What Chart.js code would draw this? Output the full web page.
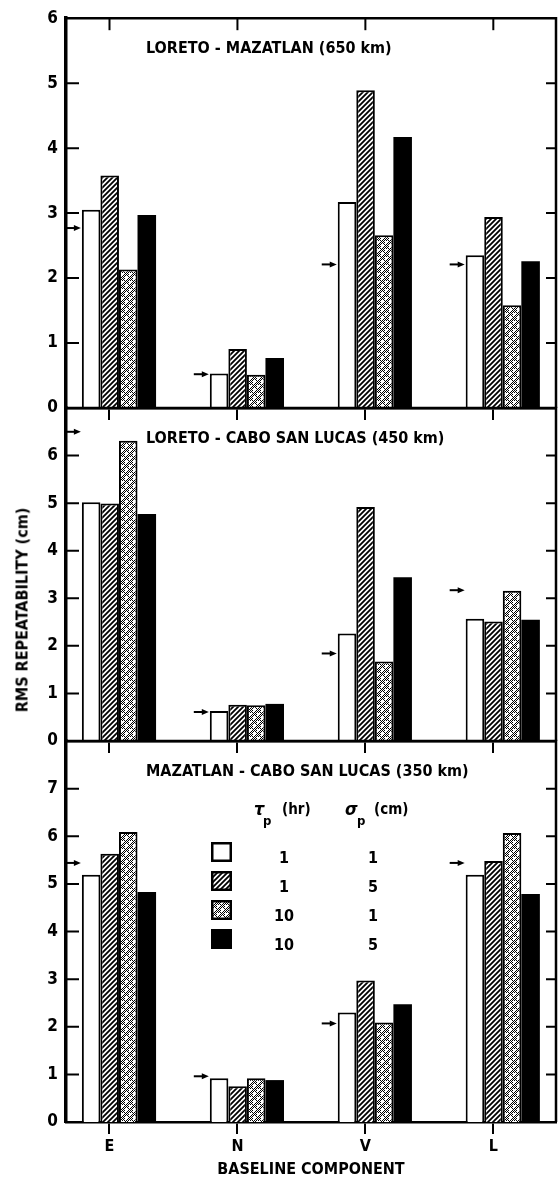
<!DOCTYPE html>
<html>
<head>
<meta charset="utf-8">
<script src="https://cdn.jsdelivr.net/npm/chart.js@4.4.1/dist/chart.umd.min.js"></script>
<style>
  body { margin: 0; background: #fff; width: 558px; height: 1181px; overflow: hidden; position: relative; }
  canvas { position: absolute; left: 0; top: 0; }
  #ytitle {
    position: absolute; left: 22px; top: 610px; white-space: nowrap;
    font: bold 16px "Liberation Sans Narrow", "DejaVu Sans Condensed", sans-serif;
    transform: translate(-50%, -50%) rotate(-90deg);
  }
</style>
</head>
<body>
<canvas id="p1" width="558" height="1181"></canvas>
<canvas id="p2" width="558" height="1181"></canvas>
<canvas id="p3" width="558" height="1181"></canvas>
<div id="ytitle">RMS REPEATABILITY (cm)</div>
<script>
// baseline components and series (tau_p hr / sigma_p cm)
const categories = ['E', 'N', 'V', 'L'];
const tauHours = ['1', '1', '10', '10'];
const sigmaCm = ['1', '5', '1', '5'];

// LORETO - MAZATLAN (650 km)
const lmWhite   = [3.05, 0.53, 3.17, 2.35];
const lmHatched = [3.58, 0.91, 4.89, 2.94];
const lmStipple = [2.13, 0.51, 2.66, 1.58];
const lmBlack   = [2.97, 0.77, 4.17, 2.26];
const lmArrow   = [2.77, 0.52, 2.21, 2.21];

// LORETO - CABO SAN LUCAS (450 km)
const lcWhite   = [5.02, 0.63, 2.26, 2.57];
const lcHatched = [4.99, 0.76, 4.92, 2.51];
const lcStipple = [6.31, 0.75, 1.67, 3.16];
const lcBlack   = [4.77, 0.78, 3.44, 2.55];
const lcArrow   = [6.50, 0.61, 1.84, 3.17];

// MAZATLAN - CABO SAN LUCAS (350 km)
const mcWhite   = [5.19, 0.92, 2.30, 5.19];
const mcHatched = [5.63, 0.75, 2.97, 5.48];
const mcStipple = [6.09, 0.92, 2.09, 6.07];
const mcBlack   = [4.83, 0.88, 2.47, 4.79];
const mcArrow   = [5.44, 0.96, 2.07, 5.44];

const FONT = '"Liberation Sans Narrow", "DejaVu Sans Condensed", sans-serif';
const W = 558, H = 1181;
const FRAME_LEFT = 66, FRAME_RIGHT = 556;
const X_MIN = -0.34, X_MAX = 3.49, BAR_SHIFT = 0.074;

// fill patterns
function hatchPattern() {
    const c = document.createElement('canvas');
    c.width = c.height = 5;
    const g = c.getContext('2d');
    g.fillStyle = '#fff'; g.fillRect(0, 0, 5, 5);
    g.strokeStyle = '#000'; g.lineWidth = 1.8;
    g.beginPath();
    g.moveTo(-1, 6); g.lineTo(6, -1);
    g.moveTo(-1, 1); g.lineTo(1, -1);
    g.moveTo(4, 6); g.lineTo(6, 4);
    g.stroke();
    return g.createPattern(c, 'repeat');
}
function stipplePattern() {
    // checker dots with a few white gaps, roughly a mid grey screen
    const c = document.createElement('canvas');
    c.width = c.height = 8;
    const g = c.getContext('2d');
    g.fillStyle = '#fff'; g.fillRect(0, 0, 8, 8);
    g.fillStyle = '#000';
    const gaps = ['1,1', '2,2', '1,3', '3,1', '5,5', '6,6', '5,7', '7,5', '6,4'];
    for (let yy = 0; yy < 8; yy++) {
        for (let xx = 0; xx < 8; xx++) {
            if ((xx + yy) % 2 === 0 && !gaps.includes(xx + ',' + yy)) g.fillRect(xx, yy, 1, 1);
        }
    }
    return g.createPattern(c, 'repeat');
}
const hatch = hatchPattern();
const stipple = stipplePattern();
const fills = ['#fff', hatch, stipple, '#000'];
const borderWidths = [2, 2, 2, 0];

const framePlugin = {
    id: 'frame',
    afterDraw(chart, args, opts) {
        const { ctx, chartArea: a, scales: { x, y } } = chart;
        ctx.save();
        ctx.strokeStyle = '#000';
        ctx.fillStyle = '#000';
        // top and right frame
        ctx.lineWidth = 2.5;
        ctx.beginPath();
        ctx.moveTo(a.left - 1, a.top);
        ctx.lineTo(a.right, a.top);
        ctx.lineTo(a.right, a.bottom);
        ctx.stroke();
        // inward y ticks on both sides
        ctx.lineWidth = 2;
        y.ticks.forEach(t => {
            if (t.value <= 0 || t.value >= y.max) return;
            const py = y.getPixelForValue(t.value);
            ctx.beginPath();
            ctx.moveTo(a.left, py); ctx.lineTo(a.left + 13, py);
            ctx.moveTo(a.right - 10, py); ctx.lineTo(a.right, py);
            ctx.stroke();
        });
        // inward x ticks along the top of the first panel
        if (opts.topTicks) {
            x.ticks.forEach(t => {
                const px = x.getPixelForValue(t.value);
                ctx.beginPath();
                ctx.moveTo(px, a.top); ctx.lineTo(px, a.top + 12);
                ctx.stroke();
            });
        }
        // reference arrows, left of the first bar of each group
        const white = chart.getDatasetMeta(0).data;
        opts.arrows.forEach((v, i) => {
            const bar = white[i];
            const tip = bar.x - bar.width / 2 - 1;
            const py = y.getPixelForValue(v);
            ctx.lineWidth = 2;
            ctx.beginPath();
            ctx.moveTo(tip - 15, py); ctx.lineTo(tip - 5, py);
            ctx.stroke();
            ctx.beginPath();
            ctx.moveTo(tip, py); ctx.lineTo(tip - 7, py - 3); ctx.lineTo(tip - 7, py + 3);
            ctx.closePath(); ctx.fill();
        });
        // panel title
        ctx.font = 'bold 16px ' + FONT;
        ctx.textAlign = 'left';
        ctx.textBaseline = 'alphabetic';
        ctx.fillText(opts.title, 146, a.top + 35);

        if (opts.legend) drawLegend(ctx);
        ctx.restore();
    }
};

function drawLegend(ctx) {
    const boxX = 211, boxW = 21, boxH = 20, rowTop = 842, rowStep = 29;
    ctx.textAlign = 'left';
    ctx.font = 'italic bold 18px ' + FONT;
    ctx.fillText('τ', 254, 815);
    ctx.fillText('σ', 345, 815);
    ctx.font = 'bold 13px ' + FONT;
    ctx.fillText('p', 263, 825);
    ctx.fillText('p', 357, 825);
    ctx.font = 'bold 15px ' + FONT;
    ctx.fillText('(hr)', 282, 814);
    ctx.fillText('(cm)', 374, 814);
    ctx.font = 'bold 16px ' + FONT;
    ctx.textAlign = 'center';
    for (let k = 0; k < 4; k++) {
        const top = rowTop + k * rowStep;
        ctx.fillStyle = fills[k];
        ctx.fillRect(boxX, top, boxW, boxH);
        if (k < 3) {
            ctx.lineWidth = 2.5;
            ctx.strokeStyle = '#000';
            ctx.strokeRect(boxX + 1.25, top + 1.25, boxW - 2.5, boxH - 2.5);
        }
        ctx.fillStyle = '#000';
        ctx.fillText(tauHours[k], 284, top + 21);
        ctx.fillText(sigmaCm[k], 373, top + 21);
    }
}

function makePanel(id, series, arrows, yMax, top, bottom, title, opts) {
    const last = !!opts.last;
    const xH = last ? H - bottom : 14;
    return new Chart(document.getElementById(id).getContext('2d'), {
        type: 'bar',
        data: {
            datasets: series.map((vals, k) => ({
                label: 'tau ' + tauHours[k] + ' hr, sigma ' + sigmaCm[k] + ' cm',
                data: vals.map((v, i) => ({ x: i + BAR_SHIFT, y: v })),
                backgroundColor: fills[k],
                borderColor: '#000',
                borderWidth: borderWidths[k],
                categoryPercentage: 0.58,
                barPercentage: 1.0
            }))
        },
        options: {
            responsive: false,
            animation: false,
            layout: { padding: { top: top, left: 0, right: W - FRAME_RIGHT, bottom: H - bottom - xH } },
            plugins: {
                legend: { display: false },
                tooltip: { enabled: false },
                frame: { arrows: arrows, title: title, topTicks: !!opts.first, legend: !!opts.legend }
            },
            scales: {
                x: {
                    type: 'linear', min: X_MIN, max: X_MAX, offset: false,
                    afterBuildTicks: s => { s.ticks = categories.map((c, i) => ({ value: i })); },
                    afterFit: s => { s.height = xH; },
                    grid: { offset: false, drawOnChartArea: false, drawTicks: true, tickLength: 12, color: '#000', lineWidth: 2 },
                    border: { display: true, color: '#000', width: 2.5 },
                    ticks: {
                        display: last, autoSkip: false, maxRotation: 0, padding: 3, color: '#000',
                        font: { family: FONT, size: 16, weight: 'bold' },
                        callback: v => categories[Math.round(v)]
                    },
                    title: {
                        display: last, text: 'BASELINE COMPONENT', color: '#000',
                        font: { family: FONT, size: 16, weight: 'bold' }, padding: { top: 0, bottom: 2 }
                    }
                },
                y: {
                    min: 0, max: yMax,
                    afterFit: s => { s.width = FRAME_LEFT; },
                    grid: { display: false, drawTicks: false },
                    border: { display: true, color: '#000', width: 3.5 },
                    ticks: {
                        stepSize: 1, padding: 8, color: '#000',
                        font: { family: FONT, size: 17, weight: 'bold' },
                        callback: v => (opts.hideTop && v === yMax ? '' : v)
                    }
                }
            }
        },
        plugins: [framePlugin]
    });
}

makePanel('p1', [lmWhite, lmHatched, lmStipple, lmBlack], lmArrow, 6, 14, 408,
    'LORETO - MAZATLAN (650 km)', { first: true });
makePanel('p2', [lcWhite, lcHatched, lcStipple, lcBlack], lcArrow, 7, 408, 741,
    'LORETO - CABO SAN LUCAS (450 km)', { hideTop: true });
makePanel('p3', [mcWhite, mcHatched, mcStipple, mcBlack], mcArrow, 8, 741, 1122,
    'MAZATLAN - CABO SAN LUCAS (350 km)', { last: true, legend: true, hideTop: true });
</script>
</body>
</html>
